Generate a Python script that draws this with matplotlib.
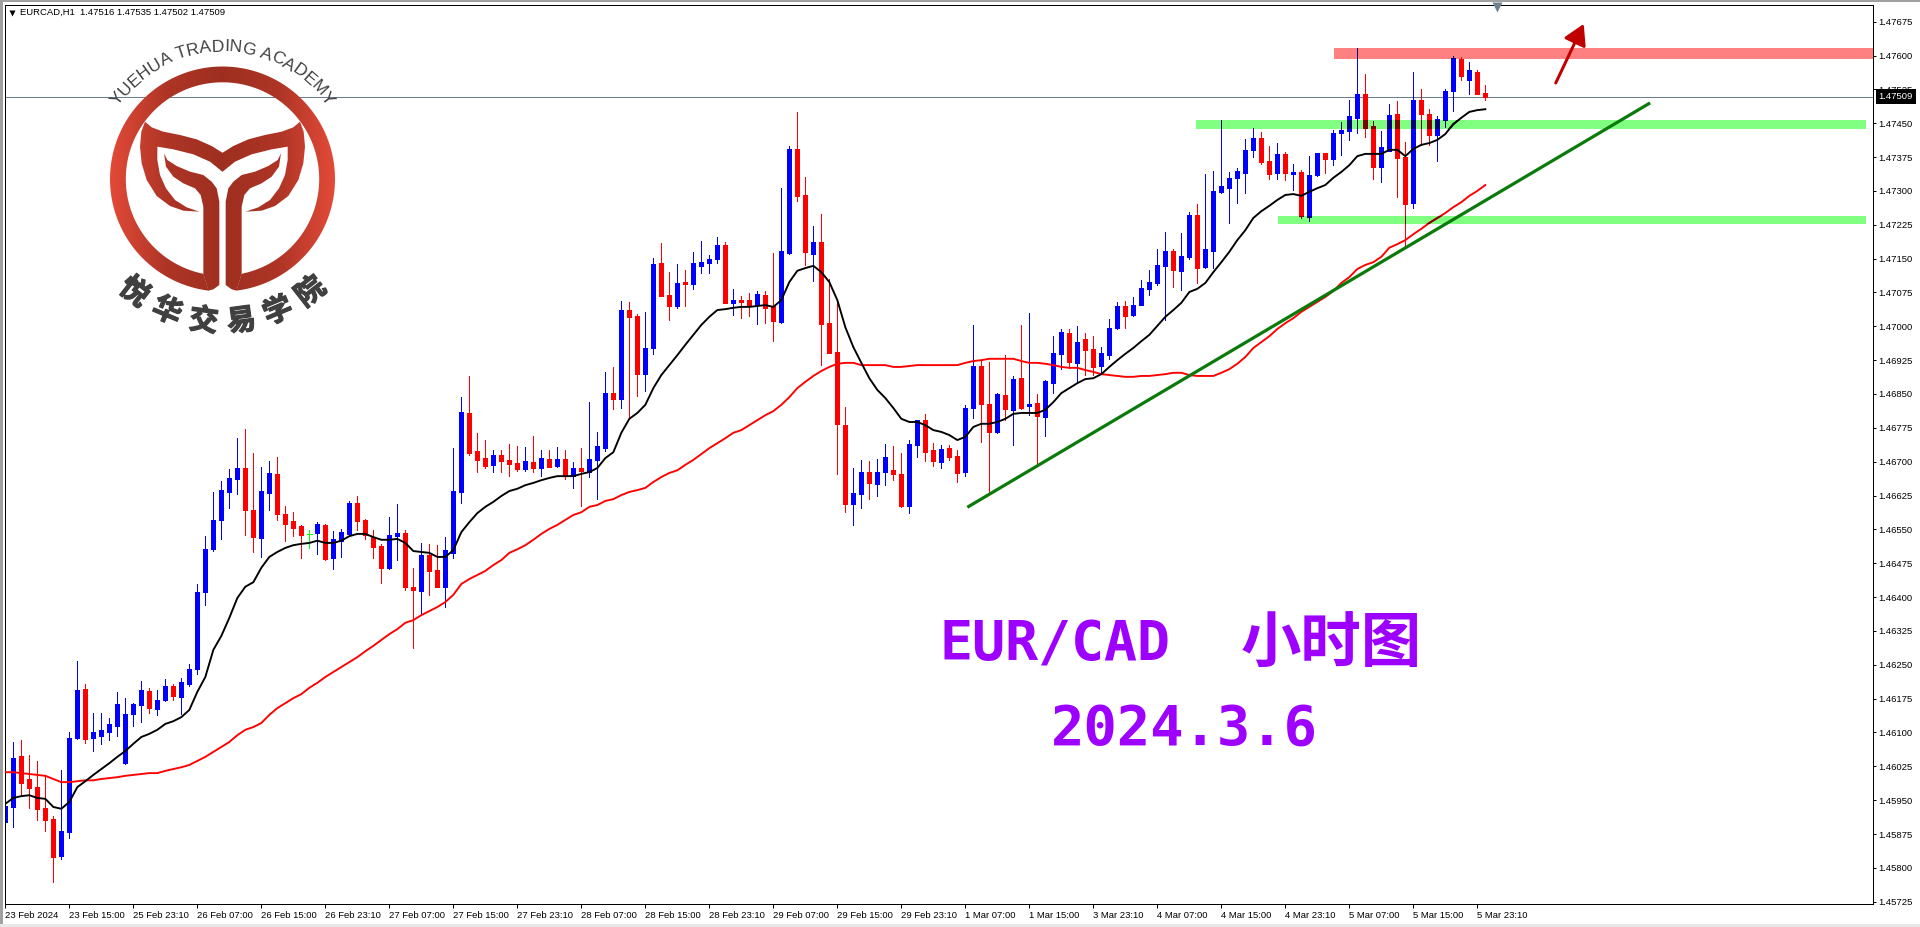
import numpy as np
import matplotlib
matplotlib.use("Agg")
import matplotlib.pyplot as plt
import matplotlib.patheffects as pe
from matplotlib.patches import Rectangle, Polygon
from matplotlib.colors import LinearSegmentedColormap
from matplotlib.font_manager import FontProperties
from matplotlib.textpath import text_to_path

# prices in points (1/100000), one entry per hourly bar
opens = [145902,145934,146048,145997,145979,145932,145908,145826,145879,146088,
         146196,146088,146092,146101,146114,146032,146141,146161,146192,146152,
         146172,146203,146178,146207,146241,146412,146506,146571,146633,146662,
         146686,146593,146531,146631,146673,146584,146568,146557,146540,146542,
         146560,146487,146525,146540,146608,146571,146533,146513,146465,146535,
         146542,146423,146414,146493,146460,146423,146498,146633,146808,146724,
         146708,146693,146715,146704,146697,146684,146699,146686,146706,146690,
         146706,146668,146686,146677,146704,146730,146852,146839,147036,147023,
         146894,146952,147140,147069,147045,147098,147094,147134,147140,147149,
         147180,147052,147058,147058,147047,147069,147045,147010,147162,147393,
         147291,147160,147187,147007,146943,146781,146606,146628,146677,146651,
         146677,146681,146673,146602,146737,146792,146726,146699,146730,146713,
         146677,146819,146912,146828,146766,146848,146815,146885,146823,146830,
         146799,146874,146939,146985,146919,146972,146950,146912,146936,146996,
         147045,147025,147047,147083,147096,147134,147167,147123,147154,147247,
         147131,147167,147298,147306,147329,147340,147391,147417,147366,147340,
         147382,147337,147342,147242,147335,147384,147371,147428,147433,147462,
         147515,147444,147353,147388,147470,147375,147273,147501,147470,147424,
         147457,147521,147592,147546,147563,147516]
highs = [145975,146079,146083,146050,146037,146006,145915,146017,146101,146258,
         146207,146143,146143,146132,146190,146176,146165,146214,146199,146194,
         146218,146207,146221,146252,146429,146535,146633,146657,146684,146752,
         146772,146719,146688,146701,146710,146602,146588,146560,146549,146566,
         146562,146546,146551,146613,146624,146573,146549,146518,146578,146606,
         146549,146465,146520,146518,146515,146533,146730,146843,146890,146764,
         146748,146726,146726,146739,146735,146733,146757,146726,146726,146733,
         146726,146699,146730,146832,146766,146899,146910,147056,147054,147027,
         147032,147151,147185,147120,147138,147125,147165,147189,147158,147198,
         147187,147083,147067,147074,147078,147078,147162,147306,147399,147475,
         147331,147222,147249,147105,147058,146821,146686,146704,146701,146706,
         146739,146735,146719,146748,146792,146806,146741,146737,146737,146726,
         146826,147003,146925,146921,146852,146936,146890,147003,147029,146850,
         146881,146978,146994,146994,147001,146985,146978,146954,147016,147054,
         147056,147065,147103,147125,147171,147209,147171,147207,147253,147271,
         147337,147344,147457,147342,147351,147415,147439,147431,147399,147406,
         147386,147360,147346,147377,147384,147384,147435,147453,147501,147617,
         147559,147455,147433,147493,147499,147408,147563,147526,147481,147466,
         147526,147599,147597,147586,147568,147535]
lows = [145877,145890,145959,145932,145906,145881,145769,145820,145866,146086,
        146077,146059,146075,146083,146092,146030,146114,146123,146143,146139,
        146170,146172,146141,146203,146230,146383,146502,146529,146597,146628,
        146538,146500,146489,146593,146571,146525,146535,146487,146509,146496,
        146482,146462,146489,146538,146549,146529,146487,146431,146462,146482,
        146416,146288,146365,146405,146423,146378,146487,146608,146715,146677,
        146686,146677,146677,146668,146679,146679,146677,146668,146688,146688,
        146662,146642,146602,146666,146617,146724,146817,146819,146795,146846,
        146857,146939,147067,147014,147041,147045,147083,147118,147118,147140,
        147052,147025,147018,147023,147005,147007,146967,147007,147160,147278,
        147136,147100,146914,146941,146673,146588,146560,146597,146617,146624,
        146648,146659,146600,146586,146710,146701,146690,146686,146704,146655,
        146668,146797,146744,146631,146764,146792,146737,146817,146804,146695,
        146757,146852,146905,146908,146874,146892,146892,146894,146928,146994,
        146996,147023,147047,147069,147091,147014,147087,147080,147149,147096,
        147129,147129,147295,147229,147273,147295,147375,147360,147326,147326,
        147324,147302,147240,147233,147333,147340,147357,147380,147413,147428,
        147419,147326,147320,147388,147286,147176,147262,147402,147402,147366,
        147442,147477,147546,147515,147515,147502]
closes = [145937,146043,145988,145977,145930,145906,145824,145881,146088,146194,
          146086,146101,146106,146119,146163,146141,146163,146194,146154,146172,
          146203,146181,146212,146241,146412,146506,146571,146637,146664,146686,
          146593,146533,146635,146675,146584,146562,146553,146538,146540,146562,
          146485,146529,146544,146608,146568,146538,146511,146465,146538,146542,
          146423,146416,146493,146458,146423,146504,146635,146810,146719,146704,
          146690,146715,146701,146695,146684,146701,146686,146708,146688,146706,
          146668,146686,146679,146706,146735,146852,146839,147036,147021,146894,
          146952,147138,147067,147045,147096,147094,147140,147142,147149,147180,
          147052,147058,147054,147047,147072,147041,147012,147167,147393,147289,
          147165,147187,147005,146941,146784,146606,146631,146677,146653,146677,
          146710,146673,146602,146739,146792,146721,146701,146728,146710,146675,
          146819,146912,146828,146766,146850,146817,146883,146819,146828,146801,
          146879,146941,146987,146921,146965,146948,146910,146941,146996,147045,
          147023,147047,147085,147098,147136,147167,147125,147156,147247,147129,
          147171,147300,147311,147329,147344,147391,147417,147364,147337,147382,
          147340,147342,147244,147335,147384,147371,147428,147435,147466,147515,
          147439,147353,147397,147468,147373,147271,147501,147470,147424,147459,
          147521,147594,147555,147568,147515,147509]
ma_fast = [145942,145955,145959,145961,145955,145953,145935,145931,145946,145979,
           145992,146006,146019,146032,146046,146059,146075,146090,146097,146106,
           146119,146125,146134,146150,146190,146223,146283,146314,146354,146398,
           146423,146433,146465,146489,146500,146509,146515,146518,146520,146525,
           146520,146520,146525,146535,146540,146540,146533,146527,146527,146529,
           146520,146502,146500,146498,146489,146489,146504,146544,146566,146586,
           146600,146611,146624,146635,146640,146648,146653,146659,146664,146668,
           146668,146668,146673,146677,146686,146708,146721,146764,146795,146808,
           146826,146863,146892,146914,146936,146959,146981,147003,147021,147036,
           147038,147041,147043,147043,147045,147047,147043,147058,147098,147123,
           147129,147134,147120,147098,147058,146998,146954,146919,146885,146859,
           146841,146819,146795,146788,146788,146781,146770,146766,146759,146748,
           146755,146777,146784,146784,146788,146795,146806,146808,146808,146808,
           146815,146832,146852,146863,146874,146883,146885,146894,146910,146925,
           146939,146952,146967,146981,147001,147021,147036,147052,147076,147083,
           147096,147120,147142,147165,147191,147213,147240,147255,147267,147280,
           147291,147293,147289,147298,147306,147313,147329,147342,147357,147377,
           147382,147382,147382,147391,147391,147377,147393,147402,147406,147413,
           147426,147448,147462,147475,147479,147481]
ma_slow = [146012,146012,146010,146008,146006,146004,145997,145990,145990,145992,
           145994,145994,145997,145999,146001,146004,146006,146008,146010,146010,
           146015,146019,146023,146028,146037,146046,146057,146068,146079,146094,
           146106,146112,146121,146139,146154,146165,146176,146185,146199,146210,
           146223,146234,146245,146256,146267,146280,146292,146305,146318,146329,
           146343,146349,146360,146369,146378,146389,146405,146429,146440,146449,
           146458,146471,146482,146498,146506,146515,146527,146540,146551,146560,
           146571,146582,146588,146600,146604,146613,146617,146626,146633,146637,
           146642,146655,146666,146675,146681,146693,146704,146717,146730,146741,
           146752,146764,146770,146781,146792,146803,146812,146826,146843,146863,
           146877,146890,146901,146910,146917,146919,146919,146914,146914,146914,
           146914,146910,146910,146912,146914,146914,146914,146914,146914,146914,
           146919,146923,146925,146928,146928,146928,146928,146923,146919,146919,
           146917,146914,146910,146908,146908,146903,146899,146894,146892,146890,
           146888,146888,146890,146890,146892,146894,146897,146897,146892,146890,
           146890,146890,146897,146905,146917,146932,146952,146965,146978,146994,
           147007,147018,147032,147043,147054,147065,147078,147096,147109,147127,
           147136,147142,147154,147174,147182,147191,147204,147216,147229,147240,
           147251,147264,147275,147289,147300,147313]

x_labels = ["23 Feb 2024", "23 Feb 15:00", "25 Feb 23:10", "26 Feb 07:00", "26 Feb 15:00",
            "26 Feb 23:10", "27 Feb 07:00", "27 Feb 15:00", "27 Feb 23:10", "28 Feb 07:00",
            "28 Feb 15:00", "28 Feb 23:10", "29 Feb 07:00", "29 Feb 15:00", "29 Feb 23:10",
            "1 Mar 07:00", "1 Mar 15:00", "3 Mar 23:10", "4 Mar 07:00", "4 Mar 15:00",
            "4 Mar 23:10", "5 Mar 07:00", "5 Mar 15:00", "5 Mar 23:10"]
y_ticks = [1.45725 + 0.00075 * k for k in range(27)]
last_price = 1.47509

# (first bar, last bar, top, bottom) of the drawn zones
zone_red = (166.1, 233.4, 1.47617, 1.47593)
zone_green_up = (148.8, 232.6, 1.47457, 1.47437)
zone_green_low = (159.1, 232.6, 1.47244, 1.47227)
trend_x = [120.25, 205.6]
trend_y = [1.46599, 1.47495]
arrow_from = (193.8, 1.47539)
arrow_to = (197.3, 1.47670)

W, H = 1920, 927
PX = 72 / 100  # one pixel in points
LEFT, RIGHT, TOP, BOTTOM = 4.5, 1872.5, 4.5, 904.0
BAR0, BAR_STEP = 5.33, 8.0
TICK_FONT = 6.8
MA_WIDTH = 1.9 * PX

plt.rcParams['font.family'] = ['Liberation Sans', 'DejaVu Sans']
fig = plt.figure(figsize=(W / 100, H / 100), dpi=100, facecolor='white')
ax = fig.add_axes([LEFT / W, 1 - BOTTOM / H, (RIGHT - LEFT) / W, (BOTTOM - TOP) / H])

idx = np.arange(len(opens))
o = np.array(opens) / 1e5
h = np.array(highs) / 1e5
l = np.array(lows) / 1e5
c = np.array(closes) / 1e5
fast = np.array(ma_fast) / 1e5
slow = np.array(ma_slow) / 1e5


def draw_candles(up_col, down_col, clip=None):
    cols = np.where(c > o, up_col, down_col).tolist()
    for i in np.where(c == o)[0]:
        cols[i] = '#00FF00'
    wicks = ax.vlines(idx, l, h, colors=cols, linewidth=1 * PX, zorder=2, antialiased=False)
    bodies = ax.vlines(idx, np.minimum(o, c), np.maximum(o, c), colors=cols,
                       linewidth=5 * PX, zorder=2.1, antialiased=False)
    if clip is not None:
        wicks.set_clip_path(clip)
        bodies.set_clip_path(clip)


draw_candles('#0000FF', '#FF0000')
doji = np.where(c == o)[0]
ax.hlines(o[doji], doji - 0.31, doji + 0.31, colors='#00FF00', linewidth=1 * PX, zorder=2.1, antialiased=False)

ax.plot(idx, slow, color='#FF0000', lw=MA_WIDTH, zorder=3)
ax.plot(idx, fast, color='#000000', lw=MA_WIDTH, zorder=3.1)

# zones act like a multiply layer: what runs through them comes out darker
for zone, col, down in [(zone_red, '#FF8080', '#FF0000'),
                        (zone_green_up, '#80FF80', '#800000'),
                        (zone_green_low, '#80FF80', '#800000')]:
    rect = Rectangle((zone[0], zone[3]), zone[1] - zone[0], zone[2] - zone[3],
                     facecolor=col, edgecolor='none', zorder=1)
    ax.add_patch(rect)
    draw_candles('#000080', down, clip=rect)
    line, = ax.plot(idx, slow, color=down, lw=MA_WIDTH, zorder=3)
    line.set_clip_path(rect)
    line, = ax.plot(idx, fast, color='#000000', lw=MA_WIDTH, zorder=3.1)
    line.set_clip_path(rect)

ax.axhline(last_price, color='#6A7F95', lw=1 * PX, zorder=1.5)
ax.plot(trend_x, trend_y, color='#0A7A0A', lw=3.2 * PX, zorder=4, solid_capstyle='butt')
ax.annotate('', xy=arrow_to, xytext=arrow_from, zorder=5,
            arrowprops=dict(arrowstyle='-|>,head_length=0.62,head_width=0.36', color='#C00000',
                            lw=3 * PX, mutation_scale=20, shrinkA=0, shrinkB=0))
ax.plot([186.5], [1.47707], marker='v', ms=6.5, color='#708090', mec='none', zorder=5, clip_on=False)

ax.set_xlim((LEFT - BAR0) / BAR_STEP, (RIGHT - BAR0) / BAR_STEP)
ax.set_ylim(1.45720, 1.47713)
ax.set_xticks(np.arange(len(x_labels)) * 8)
ax.set_xticklabels(x_labels, ha='left', fontsize=TICK_FONT)
ax.yaxis.tick_right()
ax.set_yticks(y_ticks)
ax.set_yticklabels(['%.5f' % v for v in y_ticks], fontsize=TICK_FONT)
ax.tick_params(axis='x', length=4 * PX, width=1 * PX, pad=2)
ax.tick_params(axis='y', length=3 * PX, width=1 * PX, pad=1.8)
for s in ax.spines.values():
    s.set_linewidth(1 * PX)

ax.annotate('%.5f' % last_price, xy=(1, last_price), xycoords=('axes fraction', 'data'),
            xytext=(4.2, 0), textcoords='offset points', va='center', ha='left', color='white',
            fontsize=TICK_FONT, zorder=20, annotation_clip=False,
            bbox=dict(boxstyle='square,pad=0.3', fc='black', ec='none'))

# overlay in pixels for the header, the logo and the captions
ov = fig.add_axes([0, 0, 1, 1], zorder=5)
ov.patch.set_alpha(0)
ov.axis('off')

ov.plot([12], [12.5], marker='v', ms=5, color='black', mec='none')
ov.text(20, 12.5, 'EURCAD,H1  1.47516 1.47535 1.47502 1.47509', fontsize=6.8, va='center', ha='left')

PURPLE = '#9D00FF'
ov.text(940, 645, 'EUR/CAD', family='DejaVu Sans Mono', weight='bold', fontsize=39.5, color=PURPLE,
        va='center', ha='left')
ov.text(1331, 645, '小时图', family='Noto Sans CJK SC', weight='bold', fontsize=43.5, color=PURPLE,
        va='center', ha='center')
ov.text(1184, 729, '2024.3.6', family='DejaVu Sans Mono', weight='bold', fontsize=40, color=PURPLE,
        va='center', ha='center')

# logo, outlines
CX, CY = 222.5, 179.0
R_OUT, R_IN = 112.5, 96.7
grad_cmap = LinearSegmentedColormap.from_list('logo', [(0, '#E34A38'), (0.25, '#AE3526'), (0.5, '#9E2F20'),
                                                       (0.75, '#AE3526'), (1, '#E34A38')])
t0, t1 = np.arcsin(14 / R_OUT), np.arcsin(19 / R_IN)
t_out = np.linspace(t0, 2 * np.pi - t0, 200)
t_in = np.linspace(2 * np.pi - t1, t1, 200)
ring = np.vstack([np.c_[CX + R_OUT * np.sin(t_out), CY + R_OUT * np.cos(t_out)],
                  np.c_[CX + R_IN * np.sin(t_in), CY + R_IN * np.cos(t_in)]])


def zoomed(pts):
    return np.array(pts, dtype=float) / 3 + [80, 20]


def mirrored(pts):
    return np.c_[2 * CX - pts[:, 0], pts[:, 1]]


crescent = zoomed([(427, 398), (395, 378), (350, 358), (300, 345), (250, 335), (215, 322), (195, 305),
                   (184, 335), (180, 380), (185, 430), (200, 480), (230, 528), (270, 558), (310, 572),
                   (358, 575), (320, 562), (285, 540), (258, 505), (240, 465), (232, 420), (232, 380),
                   (280, 388), (340, 403), (390, 425), (427, 455)])
crescent = np.vstack([crescent, mirrored(crescent)[::-1]])
stem = zoomed([(252, 400), (262, 420), (290, 438), (330, 455), (370, 465), (395, 485), (410, 505), (418, 545),
               (418, 795), (400, 808), (385, 812), (370, 761), (370, 560), (362, 525), (345, 505), (310, 490),
               (280, 470), (258, 440)])
for shape in [ring, crescent, stem, mirrored(stem)]:
    poly = Polygon(shape, closed=True, transform=ov.transData, facecolor='none', edgecolor='none')
    ov.add_patch(poly)
    im = ov.imshow(np.linspace(0, 1, 256)[None, :], cmap=grad_cmap, aspect='auto', zorder=2,
                   extent=(CX - R_OUT, CX + R_OUT, CY + R_OUT, CY - R_OUT))
    im.set_clip_path(poly)

arc_text = 'YUEHUA TRADING ACADEMY'
fp = FontProperties(family='Liberation Sans', size=12.6)
widths = np.array([3.6 if ch == ' ' else text_to_path.get_text_width_height_descent(ch, fp, False)[0] for ch in arc_text])
angles = (np.cumsum(widths) - widths / 2) / widths.sum() * 110 - 55
for ch, a in zip(arc_text, angles):
    rad = np.deg2rad(a)
    ov.text(CX + 132 * np.sin(rad), CY - 132 * np.cos(rad), ch, fontproperties=fp, color='#404040',
            rotation=-a, rotation_mode='anchor', va='center', ha='center')

for ch, a in zip('悦华交易学院', np.linspace(-38, 38, 6)):
    rad = np.deg2rad(a)
    ov.text(CX + 143 * np.sin(rad), CY + 143 * np.cos(rad), ch, family='Noto Sans CJK SC', weight='bold',
            fontsize=21, color='#404040', rotation=a, rotation_mode='anchor', va='center', ha='center',
            path_effects=[pe.withStroke(linewidth=0.9, foreground='#404040')])

ov.set_xlim(0, W)
ov.set_ylim(H, 0)

# window edges
fig.add_artist(Rectangle((0, 0), 2.5 / W, 1, transform=fig.transFigure, facecolor='#A0A0A0', edgecolor='none'))
fig.add_artist(Rectangle((0, 1 - 2 / H), 1, 2 / H, transform=fig.transFigure, facecolor='#A0A0A0', edgecolor='none'))
fig.add_artist(Rectangle((0, 0), 1, 3 / H, transform=fig.transFigure, facecolor='#E8E8E8', edgecolor='none'))

fig.savefig('out.png', dpi=100)
